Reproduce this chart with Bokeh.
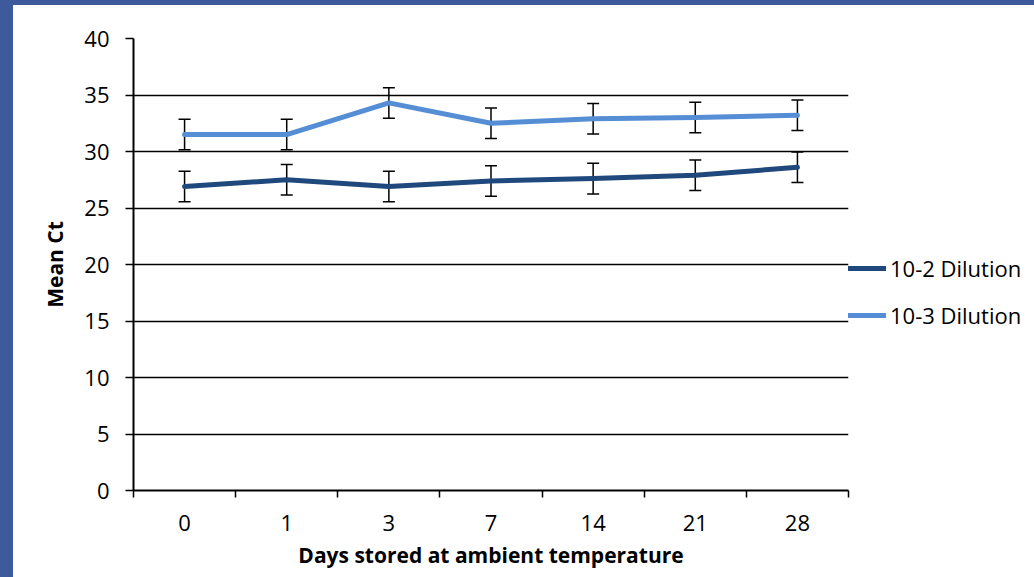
from bokeh.plotting import figure
from bokeh.models import (ColumnDataSource, Range1d, FixedTicker, Whisker, TeeHead,
                          Legend, LegendItem, Div)
from bokeh.layouts import column, row
from bokeh.embed import file_html
from bokeh.resources import INLINE

# ---- data ----
days = ["0", "1", "3", "7", "14", "21", "28"]
dil_2 = [26.9, 27.5, 26.9, 27.4, 27.6, 27.9, 28.6]
dil_3 = [31.5, 31.5, 34.3, 32.5, 32.9, 33.0, 33.2]
err_2 = [1.35, 1.35, 1.35, 1.35, 1.35, 1.35, 1.35]
err_3 = [1.35, 1.35, 1.35, 1.35, 1.35, 1.35, 1.35]
y_ticks = [0, 5, 10, 15, 20, 25, 30, 35, 40]
series_names = ["10-2 Dilution", "10-3 Dilution"]

FONT = "Open Sans"
DARK = "#1F497D"
LIGHT = "#558ED5"
FRAME = "#3D5B9C"

xpos = [i + 0.5 for i in range(len(days))]

p = figure(frame_width=715, frame_height=452,
           min_border_left=120, min_border_right=186,
           min_border_top=33, min_border_bottom=87,
           x_range=Range1d(0, len(days)), y_range=Range1d(0, 40),
           output_backend="svg", toolbar_location=None, margin=0)
p.outline_line_color = None
p.background_fill_color = "white"
p.border_fill_color = "white"

# axes
xa = p.xaxis[0]
xa.ticker = FixedTicker(ticks=xpos, minor_ticks=list(range(len(days) + 1)))
xa.major_label_overrides = {x: d for x, d in zip(xpos, days)}
xa.major_tick_line_color = None
xa.major_tick_out = 0
xa.major_tick_in = 0
xa.minor_tick_line_color = "black"
xa.minor_tick_out = 7
xa.minor_tick_in = 0
xa.minor_tick_line_width = 1.5
xa.axis_line_color = "black"
xa.axis_line_width = 2
xa.major_label_text_font = FONT
xa.major_label_text_font_size = "22px"
xa.major_label_text_color = "black"
xa.major_label_standoff = 17
xa.axis_label = "Days stored at ambient temperature"
xa.axis_label_text_font = FONT
xa.axis_label_text_font_size = "21px"
xa.axis_label_text_font_style = "bold"
xa.axis_label_text_color = "black"
xa.axis_label_standoff = 7

ya = p.yaxis[0]
ya.ticker = FixedTicker(ticks=y_ticks)
ya.minor_tick_line_color = None
ya.major_tick_out = 8
ya.major_tick_in = 0
ya.major_tick_line_width = 1.5
ya.major_tick_line_color = "black"
ya.axis_line_color = "black"
ya.axis_line_width = 2
ya.major_label_text_font = FONT
ya.major_label_text_font_size = "22px"
ya.major_label_text_color = "black"
ya.major_label_standoff = 16
ya.axis_label = "Mean Ct"
ya.axis_label_text_font = FONT
ya.axis_label_text_font_size = "21px"
ya.axis_label_text_font_style = "bold"
ya.axis_label_text_color = "black"
ya.axis_label_standoff = 12

p.xgrid.grid_line_color = None
p.ygrid.grid_line_color = "black"
p.ygrid.grid_line_width = 1.5
p.ygrid.ticker = FixedTicker(ticks=y_ticks)

# error bars
for vals, errs in ((dil_2, err_2), (dil_3, err_3)):
    src = ColumnDataSource(dict(x=xpos,
                                up=[v + e for v, e in zip(vals, errs)],
                                lo=[v - e for v, e in zip(vals, errs)]))
    w = Whisker(base="x", upper="up", lower="lo", source=src,
                line_color="black", line_width=1.5, level="underlay",
                upper_head=TeeHead(size=12, line_color="black", line_width=1.5),
                lower_head=TeeHead(size=12, line_color="black", line_width=1.5))
    p.add_layout(w)

r2 = p.line(xpos, dil_2, line_color=DARK, line_width=5, line_join="round", line_cap="round")
r3 = p.line(xpos, dil_3, line_color=LIGHT, line_width=5, line_join="round", line_cap="round")

legend = Legend(items=[LegendItem(label=series_names[0], renderers=[r2]),
                       LegendItem(label=series_names[1], renderers=[r3])],
                location=(0, 160), orientation="vertical",
                glyph_width=38, glyph_height=20, label_height=20,
                spacing=17, padding=0, margin=0, label_standoff=4,
                label_text_font=FONT, label_text_font_size="22px",
                label_text_color="black",
                border_line_color=None, background_fill_alpha=0)
p.add_layout(legend, "right")

top_strip = Div(width=1034, height=5, margin=0, styles={"background-color": FRAME})
left_strip = Div(width=13, height=572, margin=0, styles={"background-color": FRAME})
layout = column(top_strip, row(left_strip, p, spacing=0, margin=0), spacing=0, margin=0)

open("out.html", "w").write(file_html(layout, INLINE))
